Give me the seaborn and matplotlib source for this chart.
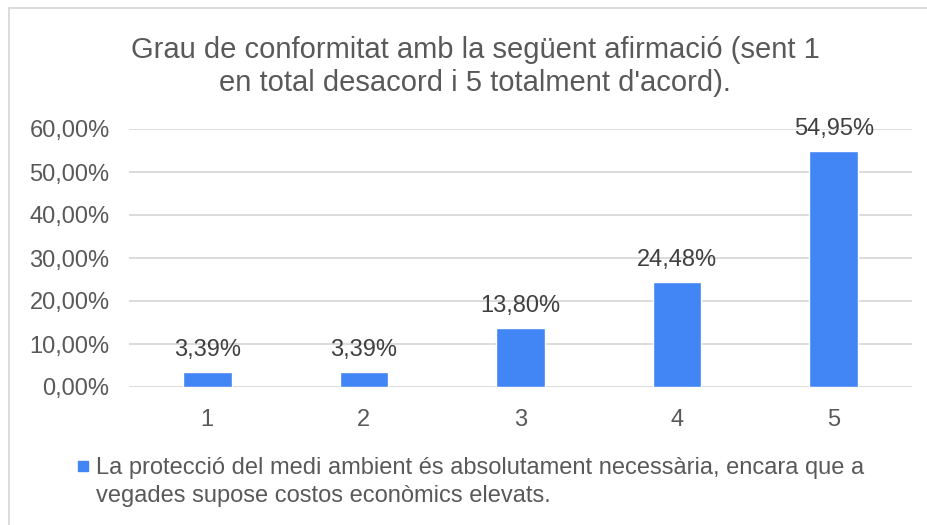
import matplotlib
matplotlib.use("Agg")
import matplotlib.pyplot as plt
import seaborn as sns
from matplotlib.lines import Line2D

# data
categories = ["1", "2", "3", "4", "5"]
values = [0.0339, 0.0339, 0.1380, 0.2448, 0.5495]
series_name = ("La protecció del medi ambient és absolutament necessària, encara que a\n"
               "vegades supose costos econòmics elevats.")
title = "Grau de conformitat amb la següent afirmació (sent 1\nen total desacord i 5 totalment d'acord)."
yticks = [0.0, 0.1, 0.2, 0.3, 0.4, 0.5, 0.6]

W, H = 928, 525
sns.set_style("white")
plt.rcParams['font.family'] = ['Liberation Sans', 'DejaVu Sans']

fig = plt.figure(figsize=(W / 100, H / 100), dpi=100)
ax = fig.add_axes([129 / W, 1 - 387 / H, (912 - 129) / W, (387 - 129) / H])

bar_color = "#4285F4"
sns.barplot(x=categories, y=values, color=bar_color, width=0.31, ax=ax, saturation=1)

ax.set_ylim(0, 0.6)
ax.set_yticks(yticks)
ax.set_yticklabels([f"{t * 100:.2f}%".replace(".", ",") for t in yticks])
ax.grid(axis="y", color="#d9d9d9", linewidth=1.3)
ax.set_axisbelow(True)
for s in ax.spines.values():
    s.set_visible(False)
ax.tick_params(axis="both", length=0, labelsize=17, colors="#595959")
ax.tick_params(axis="y", pad=14)
ax.tick_params(axis="x", pad=16)
ax.set_xlabel("")
ax.set_ylabel("")

ax.bar_label(ax.containers[0],
             labels=[f"{v * 100:.2f}%".replace(".", ",") for v in values],
             padding=8, fontsize=17, color="#404040")

fig.text(475 / W, 1 - 36 / H, title, ha="center", va="top", fontsize=21,
         color="#595959", linespacing=1.22)

# legend: square marker next to the first line of the wrapped label
marker = Line2D([], [], marker="s", markersize=6.5, color=bar_color, linestyle="none")
leg = fig.legend([marker], [series_name], loc="upper left",
                 bbox_to_anchor=(77 / W, 1 - 457 / H),
                 frameon=False, fontsize=17, handlelength=0.55, handleheight=1.0,
                 handletextpad=0.25, labelcolor="#595959", borderpad=0, borderaxespad=0)
for t in leg.get_texts():
    t.set_linespacing(1.35)
for col in leg._legend_handle_box.get_children():
    for item in col.get_children():
        item.align = "top"

# light outer frame (top and left edges visible in the reference)
fig.add_artist(Line2D([9 / W, 1], [1 - 8 / H, 1 - 8 / H], color="#d9d9d9", linewidth=1.3))
fig.add_artist(Line2D([9 / W, 9 / W], [0, 1 - 8 / H], color="#d9d9d9", linewidth=1.3))

fig.savefig("out.png", dpi=100)
